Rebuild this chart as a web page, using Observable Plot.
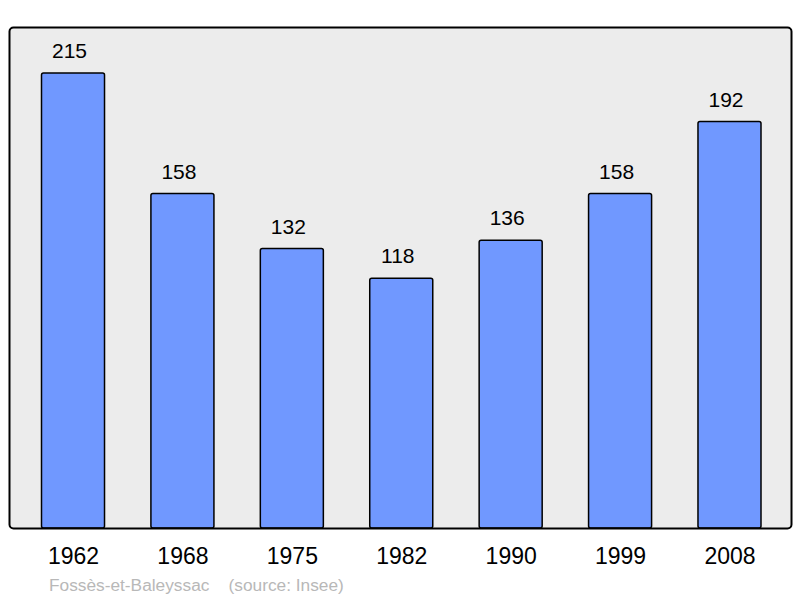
<!DOCTYPE html>
<html>
<head>
<meta charset="utf-8">
<script src="https://cdn.jsdelivr.net/npm/d3@7"></script>
<script src="https://cdn.jsdelivr.net/npm/@observablehq/plot@0.6"></script>
<style>
body { margin: 0; background: #fff; font-family: "Liberation Sans", Arial, sans-serif; }
#caption { position: absolute; left: 49px; top: 575px; font-size: 17.3px; line-height: normal; color: #b8b8b8; white-space: pre; }
</style>
</head>
<body>
<div id="chart"></div>
<div id="caption">Fossès-et-Baleyssac    (source: Insee)</div>
<script>
const years = ["1962", "1968", "1975", "1982", "1990", "1999", "2008"];
const population = [215, 158, 132, 118, 136, 158, 192];

const data = years.map((year, i) => ({year, value: population[i]}));

const chart = Plot.plot({
  width: 800,
  height: 570,
  marginTop: 27,
  marginBottom: 42,
  marginLeft: 9,
  marginRight: 9,
  style: {fontFamily: "Liberation Sans, Arial, sans-serif", fontSize: "22px", color: "#000", background: "#fff"},
  x: {domain: years, range: [41.5, 761], round: false, paddingInner: 0.424, paddingOuter: 0, label: null, axis: null},
  y: {domain: [0, 236.7], axis: null},
  marks: [
    Plot.frame({fill: "#ececec", stroke: "none", rx: 4}),
    Plot.barY(data, {x: "year", y: "value", fill: "#7098ff", stroke: "#000", strokeWidth: 1.5, rx: 2}),
    Plot.text(data, {x: "year", y: "value", text: d => String(d.value), dx: -4, dy: -22, fontSize: 21, fill: "#000"}),
    Plot.frame({fill: "none", stroke: "#000", strokeWidth: 2, rx: 4}),
    Plot.axisX({tickSize: 0, tickPadding: 19.5, fontSize: 23, label: null})
  ]
});
document.getElementById("chart").appendChild(chart);
</script>
</body>
</html>
